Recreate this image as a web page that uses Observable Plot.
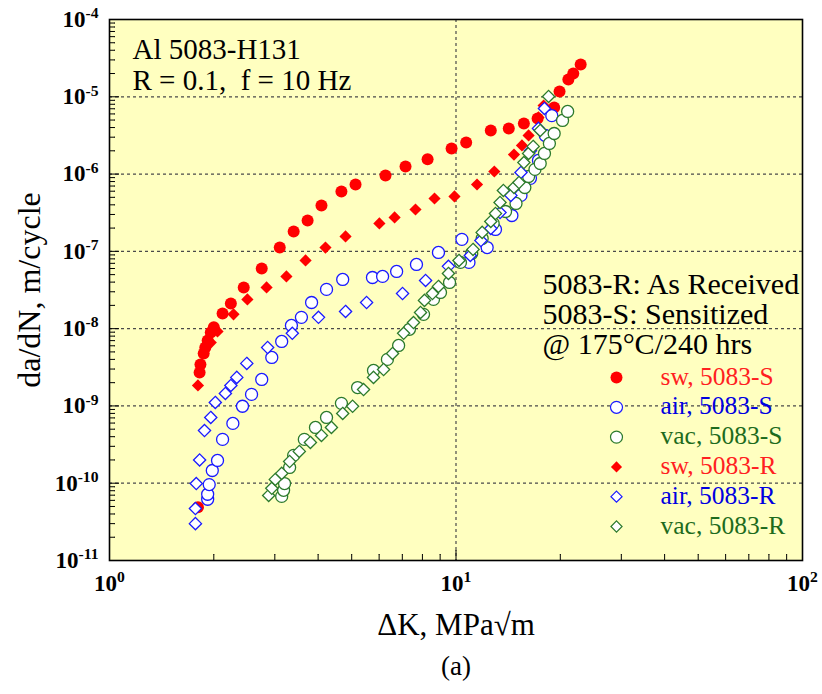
<!DOCTYPE html>
<html><head><meta charset="utf-8">
<script src="https://cdn.jsdelivr.net/npm/d3@7"></script>
<script src="https://cdn.jsdelivr.net/npm/@observablehq/plot@0.6"></script>
<style>body{margin:0;background:#fff}#chart svg{display:block}</style>
</head><body><div id="chart"></div>
<script>
// ΔK (MPa√m), da/dN (m/cycle)
const swS = [[1.80,4.9e-11],[1.82,2.71e-9],[1.83,3.44e-9],[1.87,4.78e-9],[1.89,5.7e-9],[1.92,7.04e-9],[1.96,8.9e-9],[2.00,1.04e-8],[2.12,1.57e-8],[2.24,2.12e-8],[2.44,3.41e-8],[2.75,6.0e-8],[3.10,1.12e-7],[3.40,1.81e-7],[3.73,2.51e-7],[4.09,3.93e-7],[4.67,5.96e-7],[5.13,7.33e-7],[6.26,9.6e-7],[7.15,1.25e-6],[8.28,1.55e-6],[9.71,2.14e-6],[10.7,2.56e-6],[12.6,3.67e-6],[14.2,3.89e-6],[15.7,4.51e-6],[17.2,5.24e-6],[19.2,7.27e-6],[19.9,1.17e-5],[21.1,1.67e-5],[21.8,2.0e-5],[22.9,2.62e-5]];
const airS = [[1.92,6.2e-11],[1.92,7.2e-11],[1.94,9.6e-11],[1.98,1.46e-10],[2.05,1.97e-10],[2.12,3.69e-10],[2.27,5.94e-10],[2.42,9.9e-10],[2.57,1.41e-9],[2.75,2.2e-9],[2.94,4.24e-9],[3.14,6.83e-9],[3.35,1.10e-8],[3.58,1.40e-8],[3.83,2.18e-8],[4.23,3.22e-8],[4.71,4.33e-8],[5.74,4.59e-8],[6.14,4.74e-8],[6.74,5.5e-8],[7.69,6.77e-8],[8.90,9.68e-8],[10.4,1.43e-7],[10.9,7.2e-8],[12.3,1.12e-7],[13.0,1.92e-7],[14.5,2.91e-7],[15.4,5.3e-7],[16.4,8.8e-7],[17.3,1.5e-6],[18.1,3.16e-6],[18.9,5.7e-6]];
const vacS = [[3.14,6.75e-11],[3.18,8.1e-11],[3.20,9.9e-11],[3.31,1.60e-10],[3.40,2.29e-10],[3.65,3.69e-10],[3.93,5.27e-10],[4.23,7.1e-10],[4.67,1.08e-9],[5.20,1.73e-9],[5.78,2.88e-9],[6.34,4.0e-9],[6.83,6.06e-9],[7.34,9.8e-9],[8.06,1.53e-8],[8.61,2.39e-8],[9.02,2.94e-8],[9.58,3.96e-8],[10.3,7.2e-8],[11.1,9.4e-8],[11.9,1.47e-7],[12.8,2.30e-7],[13.9,3.28e-7],[14.9,4.17e-7],[15.8,6.7e-7],[16.2,9.3e-7],[16.9,1.15e-6],[17.5,1.37e-6],[18.0,1.85e-6],[18.6,2.49e-6],[19.2,3.35e-6],[20.3,4.94e-6],[21.0,6.46e-6]];
const swR = [[1.80,1.84e-9],[1.96,6.6e-9],[2.05,9.2e-9],[2.28,1.53e-8],[2.50,2.39e-8],[2.84,3.41e-8],[3.24,4.74e-8],[3.68,7.63e-8],[4.20,1.12e-7],[4.80,1.56e-7],[6.01,2.30e-7],[6.65,2.75e-7],[7.64,3.48e-7],[8.67,4.83e-7],[9.90,5.13e-7],[11.5,7.33e-7],[12.9,1.08e-6],[14.7,1.79e-6],[15.5,2.35e-6],[16.2,3.16e-6],[17.3,5.4e-6],[17.9,7.7e-6]];
const airR = [[1.77,3.0e-11],[1.77,4.7e-11],[1.78,9.9e-11],[1.82,2.0e-10],[1.88,4.8e-10],[1.96,7.1e-10],[2.02,1.11e-9],[2.16,1.45e-9],[2.24,1.84e-9],[2.33,2.34e-9],[2.49,3.55e-9],[2.86,5.7e-9],[3.37,8.7e-9],[4.01,1.40e-8],[4.80,1.67e-8],[5.52,2.18e-8],[7.01,2.85e-8],[8.17,4.2e-8],[9.51,6.4e-8],[11.0,8.85e-8],[11.8,1.38e-7],[12.6,1.98e-7],[13.4,3.18e-7],[14.4,5.3e-7],[15.4,1.05e-6],[16.4,2.0e-6],[17.3,3.9e-6],[18.0,7.06e-6]];
const vacR = [[2.88,6.95e-11],[2.94,8.6e-11],[3.01,1.12e-10],[3.14,1.34e-10],[3.31,1.91e-10],[3.53,2.58e-10],[3.80,3.37e-10],[4.09,4.15e-10],[4.37,5.27e-10],[4.71,8.0e-10],[5.03,9.9e-10],[5.41,1.63e-9],[5.78,2.34e-9],[6.18,2.96e-9],[6.56,4.78e-9],[7.06,8.7e-9],[7.54,1.20e-8],[7.90,1.62e-8],[8.11,2.32e-8],[8.55,2.85e-8],[8.90,3.52e-8],[9.51,5.18e-8],[10.2,7.63e-8],[11.2,1.06e-7],[11.9,1.76e-7],[12.6,2.44e-7],[13.0,3.09e-7],[13.4,4.29e-7],[13.7,6.14e-7],[14.7,6.71e-7],[15.2,7.78e-7],[15.7,1.41e-6],[16.2,1.85e-6],[16.7,2.28e-6],[17.5,3.67e-6],[18.5,1.01e-5]];

const xTicks = [1, 10, 100];
const xTickLabels = ["10^0", "10^1", "10^2"];
const yTicks = [1e-4, 1e-5, 1e-6, 1e-7, 1e-8, 1e-9, 1e-10, 1e-11];
const yTickLabels = ["10^-4", "10^-5", "10^-6", "10^-7", "10^-8", "10^-9", "10^-10", "10^-11"];
const yGrid = [1e-5, 1e-6, 1e-7, 1e-8, 1e-9, 1e-10];
const xGrid = [10];
const minorMult = [2, 3, 4, 5, 6, 7, 8, 9];
const xDecades = [1, 10];
const yDecades = [1e-11, 1e-10, 1e-9, 1e-8, 1e-7, 1e-6, 1e-5];

const titleText = "Al 5083-H131\nR = 0.1,  f = 10 Hz";
const noteText = "5083-R: As Received\n5083-S: Sensitized\n@ 175°C/240 hrs";
const xLabel = "ΔK, MPa√m";
const yLabel = "da/dN, m/cycle";
const panelLabel = "(a)";

const RED = "#ff0000", BLUE = "#1a1aff", GREEN = "#2c7a2c";
const series = [
  {label: "sw, 5083-S",  data: swS,  symbol: "circle",   fill: RED,    stroke: "none", text: "#ff2020"},
  {label: "air, 5083-S", data: airS, symbol: "circle",   fill: "white", stroke: BLUE, text: "#0000e0"},
  {label: "vac, 5083-S", data: vacS, symbol: "circle",   fill: "white", stroke: GREEN, text: "#1d6b1d"},
  {label: "sw, 5083-R",  data: swR,  symbol: "diamond2", fill: RED,    stroke: "none", text: "#ff2020"},
  {label: "air, 5083-R", data: airR, symbol: "diamond2", fill: "white", stroke: BLUE, text: "#0000e0"},
  {label: "vac, 5083-R", data: vacR, symbol: "diamond2", fill: "white", stroke: GREEN, text: "#1d6b1d"}
];

const xMinor = xDecades.flatMap(d => minorMult.map(m => d * m));
const yMinor = yDecades.flatMap(d => minorMult.map(m => d * m));
const xFmt = new Map(xTicks.map((t, i) => [t, xTickLabels[i]]));
const yFmt = new Map(yTicks.map((t, i) => [t, yTickLabels[i]]));

const FONT = "Liberation Serif, Times New Roman, serif";

const marks = [
  Plot.frame({fill: "#ffffc0"}),
  Plot.ruleY(yGrid, {stroke: "#4a4a4a", strokeWidth: 1.2, strokeDasharray: "3,3"}),
  Plot.ruleX(xGrid, {stroke: "#4a4a4a", strokeWidth: 1.2, strokeDasharray: "3,3"}),
  // inward ticks
  Plot.vector(yMinor, {x: () => 1, y: d => d, rotate: 90, length: 5, anchor: "start", r: 0, stroke: "black", strokeWidth: 1}),
  Plot.vector(yTicks, {x: () => 1, y: d => d, rotate: 90, length: 9, anchor: "start", r: 0, stroke: "black", strokeWidth: 1}),
  Plot.vector(xMinor, {x: d => d, y: () => 1e-11, rotate: 0, length: 6, anchor: "start", r: 0, stroke: "black", strokeWidth: 1}),
  Plot.vector(xTicks, {x: d => d, y: () => 1e-11, rotate: 0, length: 10, anchor: "start", r: 0, stroke: "black", strokeWidth: 1}),
  Plot.axisY({ticks: yTicks, tickSize: 0, tickPadding: 11, tickFormat: d => yFmt.get(d), label: null,
    fontSize: 23, fontWeight: "bold", fontFamily: FONT}),
  Plot.axisX({ticks: xTicks, tickSize: 0, tickPadding: 14, tickFormat: d => xFmt.get(d), label: null,
    fontSize: 23, fontWeight: "bold", fontFamily: FONT})
];

for (const s of series) {
  marks.push(Plot.dot(s.data, {
    symbol: s.symbol, fill: s.fill, stroke: s.stroke,
    strokeWidth: 1.3, r: s.symbol === "circle" ? 6 : 5.5
  }));
}

marks.push(
  Plot.text([titleText], {x: null, y: null, text: d => d, frameAnchor: "top-left", dx: 23, dy: 18,
    textAnchor: "start", lineAnchor: "top", lineHeight: 1.05, fontSize: 29, fontFamily: FONT, fill: "black"}),
  Plot.text([noteText], {x: null, y: null, text: d => d, frameAnchor: "top-left", dx: 433, dy: 253,
    textAnchor: "start", lineAnchor: "top", lineHeight: 1.0, fontSize: 30, fontFamily: FONT, fill: "black"})
);

series.forEach((s, i) => {
  marks.push(
    Plot.dot([s.label], {x: null, y: null, frameAnchor: "top-left", dx: 507, dy: 358 + i * 29.8,
      symbol: s.symbol, fill: s.fill, stroke: s.stroke, strokeWidth: 1.2, r: s.symbol === "circle" ? 6 : 5}),
    Plot.text([s.label], {x: null, y: null, text: d => d, frameAnchor: "top-left", dx: 551, dy: 357 + i * 29.8,
      textAnchor: "start", lineAnchor: "middle", fontSize: 25.5, fontFamily: FONT, fill: s.text})
  );
});

marks.push(
  Plot.frame({stroke: "black", strokeWidth: 1.6}),
  Plot.text([xLabel], {x: null, y: null, text: d => d, frameAnchor: "bottom", dy: 65,
    textAnchor: "middle", lineAnchor: "middle", fontSize: 31, fontFamily: FONT, fill: "black"}),
  Plot.text([panelLabel], {x: null, y: null, text: d => d, frameAnchor: "bottom", dy: 106,
    textAnchor: "middle", lineAnchor: "middle", fontSize: 27, fontFamily: FONT, fill: "black"}),
  Plot.text([yLabel], {x: null, y: null, text: d => d, frameAnchor: "left", dx: -80, rotate: -90,
    textAnchor: "middle", lineAnchor: "middle", fontSize: 32, fontFamily: FONT, fill: "black"})
);

const svg = Plot.plot({
  width: 822, height: 694,
  marginLeft: 109, marginRight: 20, marginTop: 19, marginBottom: 134,
  x: {type: "log", domain: [1, 100], label: null},
  y: {type: "log", domain: [1e-11, 1e-4], label: null},
  style: {fontFamily: FONT, background: "white", color: "black"},
  marks
});

// render exponents as superscripts
d3.select(svg).selectAll('g[aria-label="y-axis tick label"] text, g[aria-label="x-axis tick label"] text').each(function() {
  const t = this.textContent;
  const parts = t.split("^");
  if (parts.length === 2) {
    this.textContent = parts[0];
    d3.select(this).append("tspan").attr("dy", "-0.55em").attr("font-size", "0.68em").text(parts[1]);
  }
});

document.getElementById("chart").appendChild(svg);
</script>
</body></html>
